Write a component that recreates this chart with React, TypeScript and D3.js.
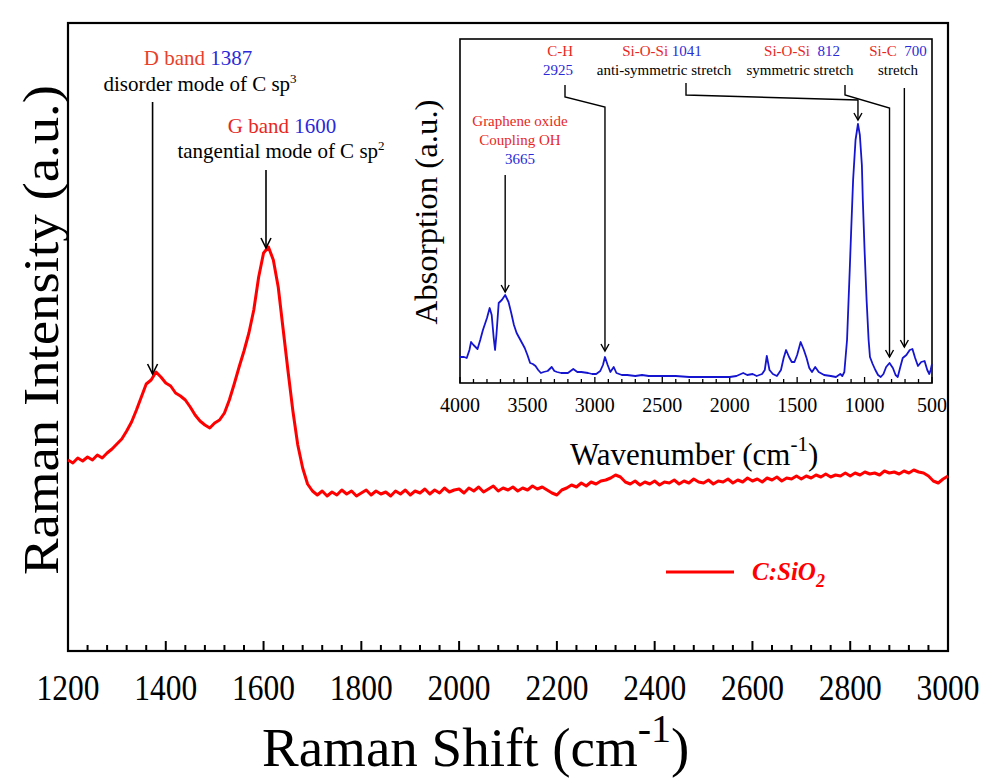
import React from 'react';
import * as d3 from 'd3';

// Raman spectrum of C:SiO2, sampled every 10 cm-1 from 1200 to 3000
const ramanStart = 1200;
const ramanStep = 10;
const ramanIntensity = [
  191, 188, 193, 190, 194, 191, 196, 193, 198, 202,
  207, 212, 220, 229, 241, 254, 267, 271, 279, 274,
  268, 265, 258, 255, 251, 244, 236, 230, 226, 223,
  228, 231, 238, 251, 267, 284, 300, 318, 341, 374,
  398, 404, 391, 364, 322, 280, 240, 206, 183, 167,
  160, 156, 160, 155, 159, 156, 161, 157, 160, 155,
  158, 161, 156, 160, 157, 159, 155, 160, 157, 161,
  156, 160, 158, 162, 157, 161, 158, 163, 159, 161,
  162, 158, 163, 160, 164, 159, 162, 165, 160, 163,
  161, 164, 160, 163, 161, 165, 162, 164, 161, 158,
  156, 161, 163, 166, 164, 168, 165, 169, 167, 170,
  171, 173, 176, 174, 169, 167, 170, 166, 169, 167,
  170, 166, 169, 168, 171, 167, 170, 168, 172, 169,
  168, 171, 167, 170, 169, 172, 168, 171, 169, 173,
  170, 172, 169, 173, 171, 174, 170, 173, 172, 175,
  172, 175, 173, 176, 174, 177, 174, 176, 175, 178,
  175, 178, 176, 179, 177, 178, 176, 180, 178, 179,
  177, 180, 178, 181, 179, 178, 175, 170, 168, 172,
  175,
];

// FTIR absorption (inset)
const irWavenumber = [
  4000, 3970, 3950, 3930, 3918, 3900, 3870, 3850, 3830, 3800, 3780, 3765, 3750, 3740, 3730,
  3713, 3690, 3665, 3640, 3620, 3600, 3580, 3560, 3540, 3520, 3500, 3480, 3460, 3440, 3420,
  3400, 3380, 3350, 3320, 3300, 3280, 3250, 3200, 3160, 3130, 3100, 3050, 3020, 2990, 2960,
  2940, 2925, 2905, 2885, 2860, 2840, 2800, 2760, 2700, 2650, 2600, 2550, 2500, 2400, 2300,
  2200, 2100, 2000, 1950, 1900, 1870, 1830, 1800, 1760, 1740, 1725, 1705, 1680, 1650, 1620,
  1600, 1582, 1560, 1540, 1520, 1500, 1474, 1450, 1430, 1410, 1390, 1366, 1340, 1300, 1250,
  1212, 1180, 1165, 1150, 1130, 1110, 1100, 1085, 1067, 1049, 1035, 1020, 1013, 1000, 985,
  970, 960, 940, 920, 900, 880, 860, 840, 815, 790, 770, 754, 735, 717, 690,
  665, 645, 625, 604, 580, 555, 535, 520, 510, 500,
];
const irAbsorption = [
  26, 26, 25, 33, 41, 38, 34, 43, 53, 65, 75, 68, 45, 33, 48,
  80, 83, 88, 81, 70, 58, 50, 45, 40, 35, 28, 20, 19, 17, 13,
  10, 11, 12, 16, 12, 11, 10, 10, 14, 11, 11, 10, 9, 9, 12,
  18, 26, 18, 11, 16, 10, 8, 8, 7, 8, 7, 7, 7, 7, 6,
  6, 6, 6, 7, 10, 8, 9, 7, 9, 13, 27, 13, 9, 7, 13,
  25, 33, 26, 21, 21, 28, 41, 33, 25, 15, 11, 16, 11, 8, 7,
  6, 9, 7, 11, 43, 113, 150, 203, 243, 259, 248, 218, 183, 133, 83,
  43, 26, 19, 13, 8, 6, 9, 16, 20, 15, 8, 6, 16, 25, 28,
  33, 34, 25, 17, 21, 22, 13, 9, 13, 19,
];

const mainTicks = [1200, 1400, 1600, 1800, 2000, 2200, 2400, 2600, 2800, 3000];
const insetTicks = [4000, 3500, 3000, 2500, 2000, 1500, 1000, 500];

// arrows: [anchor x in data units, arrow tip intensity]
const dBand = { label: 'D band', value: '1387', at: 1373, tip: 277 };
const gBand = { label: 'G band', value: '1600', at: 1605, tip: 403 };

const RED = '#ff0000';
const BLUE = '#1515d0';
const TXT_RED = '#e8281e';
const TXT_BLUE = '#2a2ad8';
const FONT = '"Liberation Serif", "Times New Roman", serif';

const M = { left: 68, right: 948, top: 23, bottom: 651 };
const IN = { left: 460, right: 932, top: 39, bottom: 383 };

const arrowHead = (x: number, y: number, s = 5, l = 8) =>
  `M${x - s},${y - l}L${x},${y}L${x + s},${y - l}`;

export default function App() {
  const x = d3.scaleLinear().domain([1200, 3000]).range([M.left, M.right]);
  const y = d3.scaleLinear().domain([0, 628]).range([M.bottom, M.top]);
  const xi = d3.scaleLinear().domain([4000, 500]).range([IN.left, IN.right]);
  const yi = d3.scaleLinear().domain([0, 344]).range([IN.bottom, IN.top]);

  const ramanPts = ramanIntensity.map((v, i) => [ramanStart + i * ramanStep, v] as [number, number]);
  const ramanLine = d3.line<[number, number]>().x((d) => x(d[0])).y((d) => y(d[1]))(ramanPts) || '';
  const irPts = irWavenumber.map((w, i) => [w, irAbsorption[i]] as [number, number]);
  const irLine = d3.line<[number, number]>().x((d) => xi(d[0])).y((d) => yi(d[1]))(irPts) || '';

  const minor = d3.range(1200, 3001, 40).filter((t) => t % 200 !== 0);
  const irAll = d3.range(500, 4001, 100);

  const irAt = (w: number) => yi(irAbsorption[irWavenumber.indexOf(w)]);

  const dx = x(dBand.at);
  const gx = x(gBand.at);

  return (
    <svg width={992} height={784} style={{ position: 'absolute', left: 0, top: 0, background: '#fff' }} fontFamily={FONT}>
      {/* main frame */}
      <rect x={M.left} y={M.top} width={M.right - M.left} height={M.bottom - M.top} fill="none" stroke="#000" strokeWidth={2.2} />
      {mainTicks.map((t) => (
        <g key={t}>
          <line x1={x(t)} x2={x(t)} y1={M.bottom} y2={M.bottom - 10} stroke="#000" strokeWidth={2} />
          <text x={x(t)} y={700} textAnchor="middle" fontSize={36} textLength={63} lengthAdjust="spacingAndGlyphs">{t}</text>
        </g>
      ))}
      {minor.map((t) => (
        <line key={t} x1={x(t)} x2={x(t)} y1={M.bottom} y2={M.bottom - 6} stroke="#000" strokeWidth={2} />
      ))}
      <text transform="translate(58,330) rotate(-90)" textAnchor="middle" fontSize={50} textLength={490} lengthAdjust="spacingAndGlyphs">
        Raman Intensity (a.u.)
      </text>
      <text x={262} y={766} fontSize={55}>
        Raman Shift (cm<tspan fontSize={40} dy={-24}>-1</tspan><tspan dy={24}>)</tspan>
      </text>

      {/* Raman curve */}
      <path d={ramanLine} fill="none" stroke={RED} strokeWidth={3} strokeLinejoin="round" />

      {/* main annotations */}
      <text x={198} y={65} textAnchor="middle" fontSize={21}>
        <tspan fill="#e8402a">{dBand.label} </tspan><tspan fill={TXT_BLUE}>{dBand.value}</tspan>
      </text>
      <text x={200} y={91} textAnchor="middle" fontSize={21}>
        disorder mode of C sp<tspan fontSize={13} dy={-8}>3</tspan>
      </text>
      <path d={`M${dx},102L${dx},${y(dBand.tip)}`} stroke="#000" strokeWidth={1.6} />
      <path d={arrowHead(dx, y(dBand.tip), 5, 10)} fill="none" stroke="#000" strokeWidth={1.6} />

      <text x={282} y={133} textAnchor="middle" fontSize={21}>
        <tspan fill={TXT_RED}>{gBand.label} </tspan><tspan fill={TXT_BLUE}>{gBand.value}</tspan>
      </text>
      <text x={281} y={158} textAnchor="middle" fontSize={21}>
        tangential mode of C sp<tspan fontSize={13} dy={-8}>2</tspan>
      </text>
      <path d={`M${gx},170L${gx},${y(gBand.tip)}`} stroke="#000" strokeWidth={1.6} />
      <path d={arrowHead(gx, y(gBand.tip), 5, 10)} fill="none" stroke="#000" strokeWidth={1.6} />

      {/* legend */}
      <line x1={666} x2={734} y1={572} y2={572} stroke={RED} strokeWidth={3} />
      <text x={752} y={580} fontSize={25} fontStyle="italic" fontWeight="bold" fill={RED}>
        C:SiO<tspan fontSize={18} dy={7}>2</tspan>
      </text>

      {/* inset */}
      <rect x={IN.left} y={IN.top} width={IN.right - IN.left} height={IN.bottom - IN.top} fill="#fff" stroke="#000" strokeWidth={1.6} />
      {irAll.map((t) => (
        <line key={t} x1={xi(t)} x2={xi(t)} y1={IN.bottom} y2={IN.bottom - (t % 500 === 0 ? 6 : 4)} stroke="#000" strokeWidth={1.3} />
      ))}
      {insetTicks.map((t) => (
        <text key={t} x={xi(t)} y={412} textAnchor="middle" fontSize={20}>{t}</text>
      ))}
      <text transform="translate(437,212) rotate(-90)" textAnchor="middle" fontSize={31} textLength={225} lengthAdjust="spacingAndGlyphs">
        Absorption (a.u.)
      </text>
      <text x={570} y={465} fontSize={31}>
        Wavenumber (cm<tspan fontSize={21} dy={-14}>-1</tspan><tspan dy={14}>)</tspan>
      </text>
      <path d={irLine} fill="none" stroke={BLUE} strokeWidth={1.8} strokeLinejoin="round" />

      {/* inset annotations */}
      <g fontSize={15}>
        <text x={520} y={126} textAnchor="middle" fill={TXT_RED}>Graphene oxide</text>
        <text x={520} y={145} textAnchor="middle" fill={TXT_RED}>Coupling OH</text>
        <text x={520} y={164} textAnchor="middle" fill={TXT_BLUE}>3665</text>

        <text x={573} y={56} textAnchor="end" fill={TXT_RED}>C-H</text>
        <text x={573} y={75} textAnchor="end" fill={TXT_BLUE}>2925</text>

        <text x={662} y={56} textAnchor="middle">
          <tspan fill={TXT_RED}>Si-O-Si </tspan><tspan fill={TXT_BLUE}>1041</tspan>
        </text>
        <text x={664} y={75} textAnchor="middle">anti-symmetric  stretch</text>

        <text x={802} y={56} textAnchor="middle" xmlSpace="preserve">
          <tspan fill={TXT_RED}>Si-O-Si  </tspan><tspan fill={TXT_BLUE}>812</tspan>
        </text>
        <text x={800} y={75} textAnchor="middle">symmetric stretch</text>

        <text x={898} y={56} textAnchor="middle" xmlSpace="preserve">
          <tspan fill={TXT_RED}>Si-C  </tspan><tspan fill={TXT_BLUE}>700</tspan>
        </text>
        <text x={898} y={75} textAnchor="middle">stretch</text>
      </g>
      <g fill="none" stroke="#000" strokeWidth={1.4}>
        <path d={`M${xi(3665)},175L${xi(3665)},${irAt(3665) - 3}`} />
        <path d={arrowHead(xi(3665), irAt(3665) - 3, 4, 7)} />
        <path d={`M565,85L565,97L${xi(2925)},107L${xi(2925)},${irAt(2925) - 6}`} />
        <path d={arrowHead(xi(2925), irAt(2925) - 6, 4, 7)} />
        <path d={`M686,83L686,95L${xi(1049)},100L${xi(1049)},${irAt(1049) - 4}`} />
        <path d={arrowHead(xi(1049), irAt(1049) - 4, 4, 7)} />
        <path d={`M845,85L845,95L${xi(815)},108L${xi(815)},${irAt(815) - 6}`} />
        <path d={arrowHead(xi(815), irAt(815) - 6, 4, 7)} />
        <path d={`M${xi(705)},88L${xi(705)},347`} />
        <path d={arrowHead(xi(705), 347, 4, 7)} />
      </g>
    </svg>
  );
}
